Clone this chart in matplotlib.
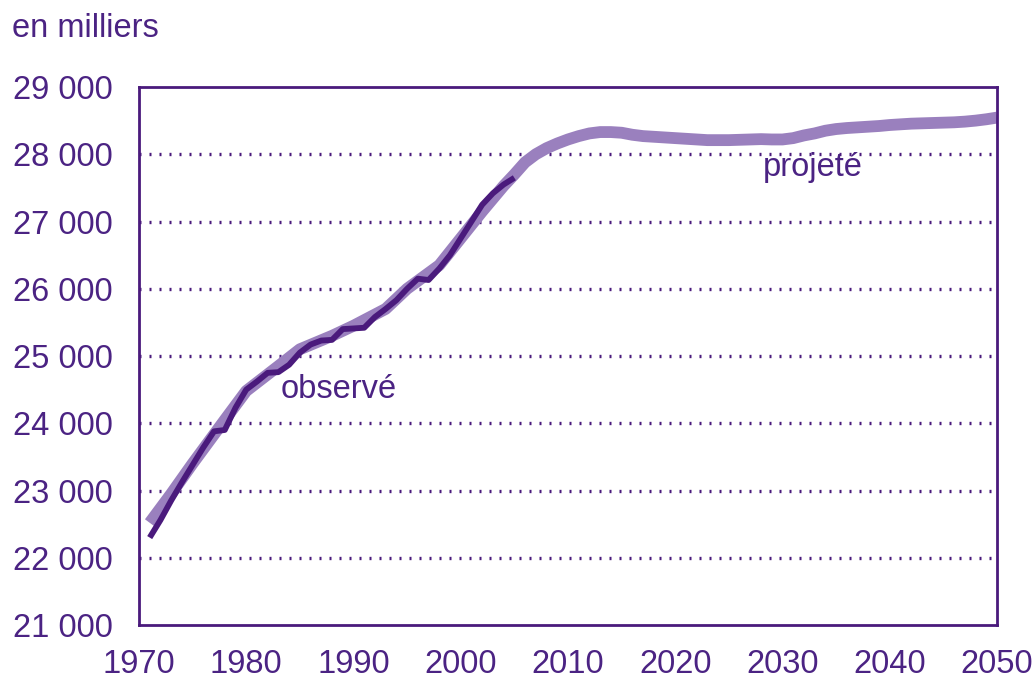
import numpy as np
import matplotlib
matplotlib.use("Agg")
import matplotlib.pyplot as plt
from matplotlib.ticker import FuncFormatter, FixedLocator

# Observed series (thousands)
obs_years = list(range(1971, 2006))
obs_values = [22300, 22560, 22850, 23120, 23380, 23640, 23880, 23900, 24230, 24500,
              24620, 24750, 24760, 24870, 25050, 25170, 25230, 25240, 25400, 25410,
              25420, 25580, 25700, 25830, 26000, 26150, 26130, 26300, 26500, 26750,
              27000, 27250, 27420, 27550, 27650]

# Projected series (thousands)
proj_years = [1971, 1973, 1975, 1978, 1980, 1983, 1985, 1988, 1990, 1993, 1995, 1998,
              2000, 2002, 2004] + list(range(2005, 2051))
proj_values = [22520, 22950, 23400, 24050, 24480, 24850, 25100, 25300, 25450, 25700,
               26000, 26350, 26750, 27150, 27530,
               27700, 27880, 28000, 28090, 28160, 28220, 28270, 28310, 28330, 28330,
               28320, 28290, 28270, 28260, 28250, 28240, 28230, 28220, 28210, 28210,
               28210, 28215, 28220, 28225, 28220, 28220, 28240, 28280, 28310, 28350,
               28375, 28390, 28400, 28410, 28420, 28435, 28445, 28455, 28460, 28465,
               28470, 28475, 28485, 28500, 28520, 28545]

x_ticks = [1970, 1980, 1990, 2000, 2010, 2020, 2030, 2040, 2050]
y_ticks = [21000, 22000, 23000, 24000, 25000, 26000, 27000, 28000, 29000]

DARK = "#4a1a7c"
LIGHT = "#9a80be"
TEXT = "#4b2383"
FS = 23.5

plt.rcParams['font.family'] = ['Liberation Sans', 'DejaVu Sans']

fig = plt.figure(figsize=(10.34, 6.9), dpi=100)
ax = fig.add_axes([0.1344, 0.0942, 0.8298, 0.7797])

# dotted horizontal gridlines
for v in y_ticks[1:-1]:
    ax.axhline(v, color=DARK, linewidth=2.4, linestyle=(0, (0.6, 2.4)), zorder=1)

ax.plot(proj_years, proj_values, color=LIGHT, linewidth=8.5, solid_capstyle='butt', zorder=2)
ax.plot(obs_years, obs_values, color=DARK, linewidth=4.2, solid_capstyle='butt', zorder=3)

ax.set_xlim(1970, 2050)
ax.set_ylim(21000, 29000)

ax.xaxis.set_major_locator(FixedLocator(x_ticks))
ax.xaxis.set_minor_locator(FixedLocator(x_ticks[1:-1]))
ax.yaxis.set_major_locator(FixedLocator(y_ticks))
ax.yaxis.set_major_formatter(FuncFormatter(lambda v, p: f"{int(v):,}".replace(",", " ")))

ax.tick_params(axis='x', which='major', length=0, pad=17, labelsize=FS, labelcolor=TEXT)
ax.tick_params(axis='x', which='minor', length=10, width=2, color=DARK, direction='out')
ax.tick_params(axis='y', length=0, pad=19, labelsize=FS, labelcolor=TEXT)

for s in ax.spines.values():
    s.set_color(DARK)
    s.set_linewidth(2)

ax.text(1988.6, 24500, "observé", color=TEXT, fontsize=FS, ha='center', va='center')
ax.text(2032.8, 27800, "projeté", color=TEXT, fontsize=FS, ha='center', va='center')
fig.text(0.012, 0.958, "en milliers", color=TEXT, fontsize=FS, ha='left', va='center')

fig.savefig("out.png", dpi=100)
